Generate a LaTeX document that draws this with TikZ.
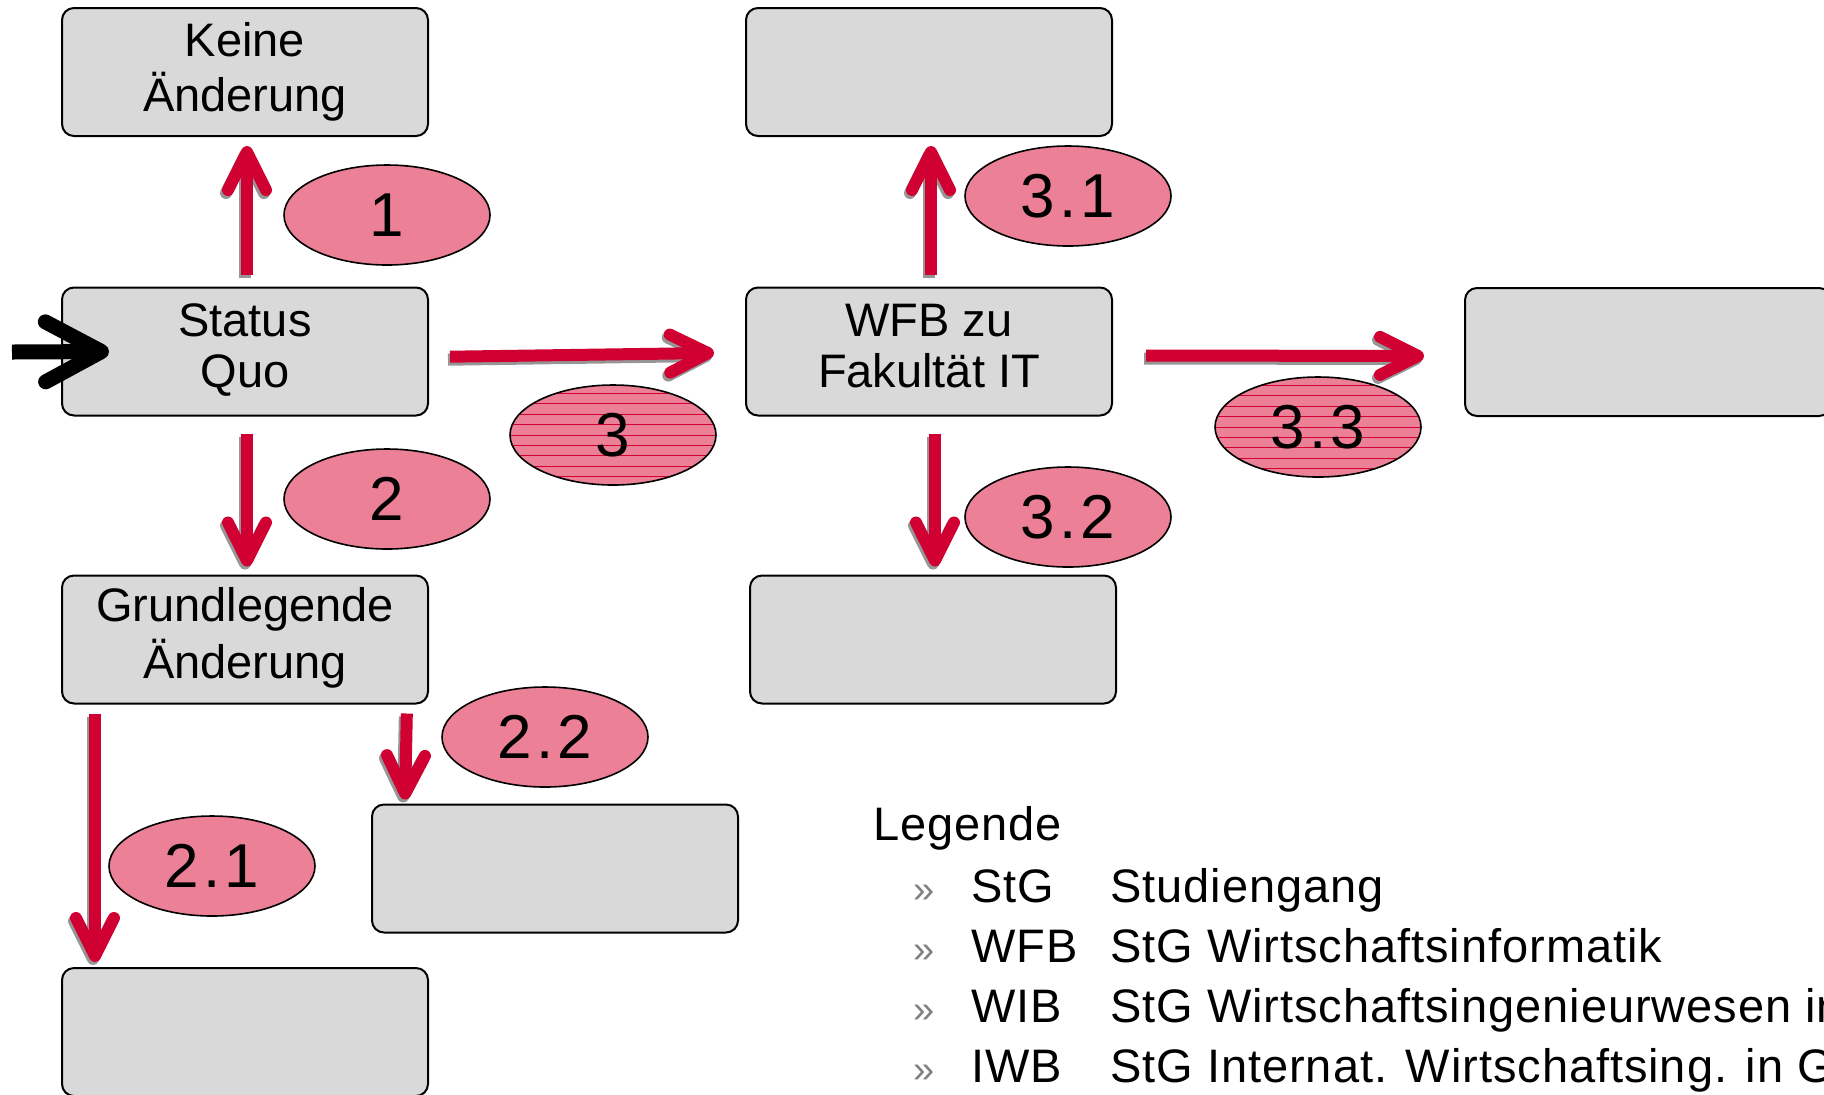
\documentclass[tikz,border=0pt]{standalone}
\usepackage{fontspec}
\setmainfont{Liberation Sans}
\usetikzlibrary{arrows.meta,shapes.geometric,calc}
\definecolor{boxgray}{RGB}{217,217,217}
\definecolor{arrred}{RGB}{208,0,50}
\definecolor{ellpink}{RGB}{235,128,150}
\definecolor{shadowgray}{RGB}{150,150,150}
\definecolor{bulletgray}{RGB}{128,128,128}
\newcommand\redarrow[3][]{%
  \draw[shadowarr,#1] #2 -- #3;
  \draw[redarr,#1] #2 -- #3;}
\begin{document}
\begin{tikzpicture}[x=0.5pt,y=-0.5pt,
  box/.style={draw=black, line width=1pt, fill=boxgray, rounded corners=6pt,
    minimum width=183pt, minimum height=64pt, inner sep=0pt, align=center,
    font=\fontsize{23.5}{25.5}\selectfont},
  num/.style={ellipse, draw=black, line width=0.8pt, fill=ellpink,
    minimum width=103pt, minimum height=50pt, inner sep=0pt,
    font=\fontsize{31}{31}\selectfont\addfontfeature{LetterSpace=7}},
  striped/.style={path picture={\foreach \k in {-6,...,6}
      \draw[arrred, line width=0.5pt] ([yshift=\k*5.2pt]path picture bounding box.west) -- ++(120pt,0);}},
  redarr/.style={draw=arrred, line width=6pt, -{Straight Barb[length=19pt,width=19pt,round]}},
  shadowarr/.style={draw=shadowgray, line width=6pt, -{Straight Barb[length=19pt,width=19pt,round]},
    transform canvas={shift={(-1pt,-1.5pt)}}},
  blackarr/.style={draw=black, line width=7.5pt, -{Straight Barb[length=28pt,width=30pt,round]}},
  leg/.style={anchor=base west, inner sep=0pt, font=\fontsize{23.5}{25.5}\selectfont\addfontfeature{LetterSpace=2}},
  bul/.style={anchor=base west, inner sep=0pt, text=bulletgray, font=\fontsize{19}{20}\selectfont}
]
\useasboundingbox (0,0) rectangle (1824,1094);

% boxes
\node[box] (keine) at (245,72) {\strut\raisebox{-1pt}{Keine}\\\raisebox{-1pt}{Änderung}\strut};
\node[box] (sq) at (245,351.5) {\strut Status\\Quo\strut};
\node[box] (grund) at (245,639.5) {\strut Grundlegende\\Änderung\strut};
\node[box] (bl) at (245,1032) {};
\node[box] (b22) at (555,868.5) {};
\node[box] (top) at (929,72) {};
\node[box] (wfb) at (929,351.5) {\strut WFB zu\\Fakultät IT\strut};
\node[box] (b32) at (933,639.5) {};
\node[box] (right) at (1648,352) {};

% ellipses
\node[num] (e1) at (387,215) {1};
\node[num] (e2) at (387,499) {2};
\node[num,striped] (e3) at (613,435) {3};
\node[num] (e22) at (545,737) {2.2};
\node[num] (e21) at (212,866) {2.1};
\node[num] (e31) at (1068,196) {3.1};
\node[num] (e32) at (1068,517) {3.2};
\node[num,striped] (e33) at (1318,427) {3.3};

% arrows
\redarrow[shorten <=6pt, shorten >=4.5pt]{([xshift=1pt]sq.north)}{([xshift=1pt]keine.south)}
\redarrow[shorten <=8.5pt, shorten >=4pt]{([xshift=1pt]sq.south)}{([xshift=1pt]grund.north)}
\redarrow[shorten <=10.5pt, shorten >=15.5pt]{([yshift=-2.75pt]sq.east)}{([yshift=-0.5pt]wfb.west)}
\redarrow[shorten <=6pt, shorten >=4.5pt]{([xshift=1pt]wfb.north)}{([xshift=1pt]top.south)}
\redarrow[shorten <=8.5pt, shorten >=4pt]{([xshift=3pt]wfb.south)}{([xshift=1pt]b32.north)}
\redarrow[shorten <=16.5pt, shorten >=20pt]{([yshift=-2pt]wfb.east)}{([yshift=-2pt]right.west)}
\redarrow[shorten <=4.5pt, shorten >=2.5pt]{([xshift=17pt]grund.south west)}{([xshift=17pt]bl.north west)}
\redarrow[shorten <=4.5pt, shorten >=2pt]{([xshift=-11pt]grund.south east)}{([xshift=17pt]b22.north west)}

\coordinate (entry) at (12,352);
\draw[blackarr] (entry) -- ([xshift=24pt]sq.west);

% legend
\node[leg] (lt) at (873,840) {Legende};
\node[bul] (u1) at (913,902) {»};
\node[bul] (u2) at (913,962) {»};
\node[bul] (u3) at (913,1022) {»};
\node[bul] (u4) at (913,1082) {»};
\node[leg] (a1) at (971,902) {StG};
\node[leg] (a2) at (971,962) {WFB};
\node[leg] (a3) at (971,1022) {WIB};
\node[leg] (a4) at (971,1082) {IWB};
\node[leg] (d1) at (1110,902) {Studiengang};
\node[leg] (d2) at (1110,962) {StG Wirtschaftsinformatik};
\node[leg] (d3) at (1110,1022) {StG Wirtschaftsingenieurwesen in};
\node[leg] (d4) at (1110,1082) {StG Internat. Wirtschaftsing. in G};
\end{tikzpicture}
\end{document}
